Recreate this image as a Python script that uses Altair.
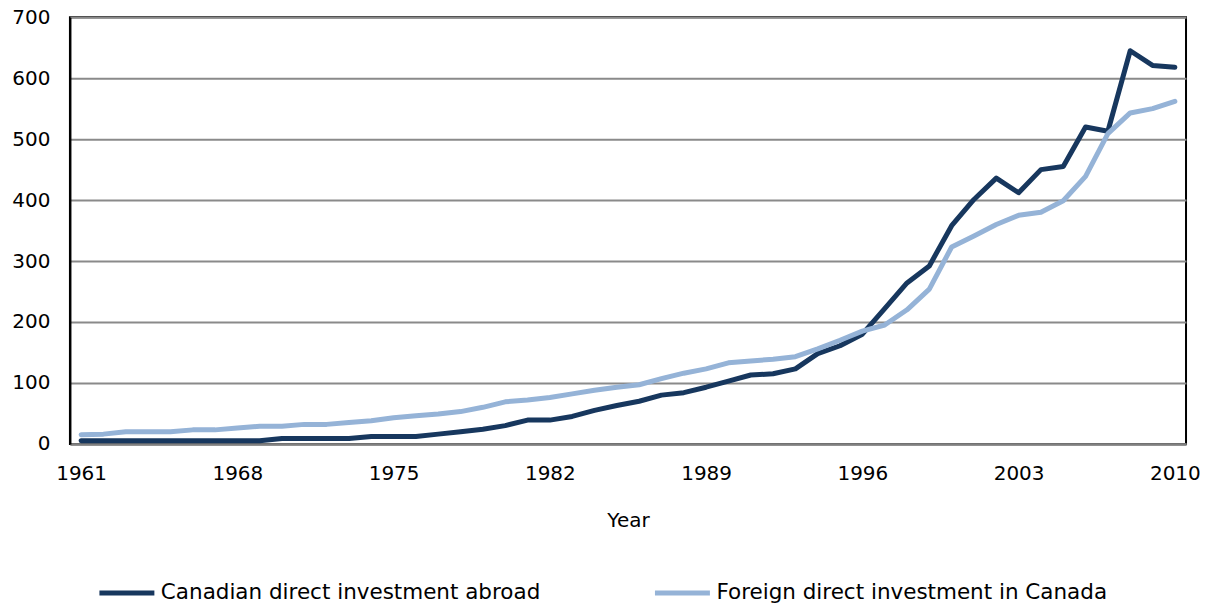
import altair as alt
import pandas as pd

years = list(range(1961, 2011))
series_names = ["Canadian direct investment abroad", "Foreign direct investment in Canada"]
cdia = [5, 5, 5, 5, 5, 5, 5, 5, 5, 9,
        9, 9, 9, 12, 12, 12, 16, 20, 24, 30,
        39, 39, 45, 55, 63, 70, 80, 84, 93, 103,
        113, 115, 123, 148, 161, 180, 222, 264, 292, 358,
        401, 436, 412, 450, 455, 520, 513, 645, 621, 618]
fdi = [15, 16, 20, 20, 20, 23, 23, 26, 29, 29,
       32, 32, 35, 38, 43, 46, 49, 53, 60, 69,
       72, 76, 82, 88, 93, 97, 107, 116, 123, 133,
       136, 139, 143, 156, 170, 185, 195, 220, 254, 323,
       341, 360, 375, 380, 399, 439, 509, 543, 550, 562]
x_ticks = [1961, 1968, 1975, 1982, 1989, 1996, 2003, 2010]
y_ticks = [0, 100, 200, 300, 400, 500, 600, 700]
colors = ["#17375E", "#95B3D7"]

rows = []
for y, v in zip(years, cdia):
    rows.append({"Year": y, "Value": v, "Series": series_names[0]})
for y, v in zip(years, fdi):
    rows.append({"Year": y, "Value": v, "Series": series_names[1]})
df = pd.DataFrame(rows)

FONT = "DejaVu Sans"

chart = alt.Chart(df).mark_line(
    strokeWidth=5, strokeCap="round", strokeJoin="round"
).encode(
    x=alt.X("Year:Q",
            scale=alt.Scale(domain=[1960.5, 2010.5], nice=False, zero=False),
            axis=alt.Axis(values=x_ticks, format="d", title="Year", grid=False,
                          ticks=False, domainColor="#808080", domainWidth=2.5,
                          labelPadding=20, labelFontSize=20, labelFont=FONT,
                          labelColor="black", titleFont=FONT, titleFontSize=20,
                          titleFontWeight="normal", titleColor="black",
                          titlePadding=27, labelFlush=False)),
    y=alt.Y("Value:Q",
            scale=alt.Scale(domain=[0, 700], nice=False),
            axis=alt.Axis(values=y_ticks, title=None, grid=True, gridColor="#8a8a8a",
                          gridWidth=2, ticks=False, domainColor="black", domainWidth=2,
                          labelPadding=20, labelFontSize=20, labelFont=FONT,
                          labelColor="black")),
    color=alt.Color("Series:N",
                    scale=alt.Scale(domain=series_names, range=colors),
                    legend=alt.Legend(title=None, orient="none", direction="horizontal",
                                      legendX=27, legendY=546, symbolType="stroke",
                                      symbolStrokeWidth=5, symbolSize=3025,
                                      labelFontSize=21.5, labelFont=FONT, labelColor="black",
                                      labelLimit=700, labelOffset=4, columnPadding=104)),
).properties(
    width=1117,
    height=427,
    autosize=alt.AutoSizeParams(type="none"),
    padding={"left": 62, "top": 9, "right": 20, "bottom": 160},
).configure_view(
    stroke="black", strokeWidth=2
)

chart.save("out.html", embed_options={"renderer": "svg", "actions": False})
